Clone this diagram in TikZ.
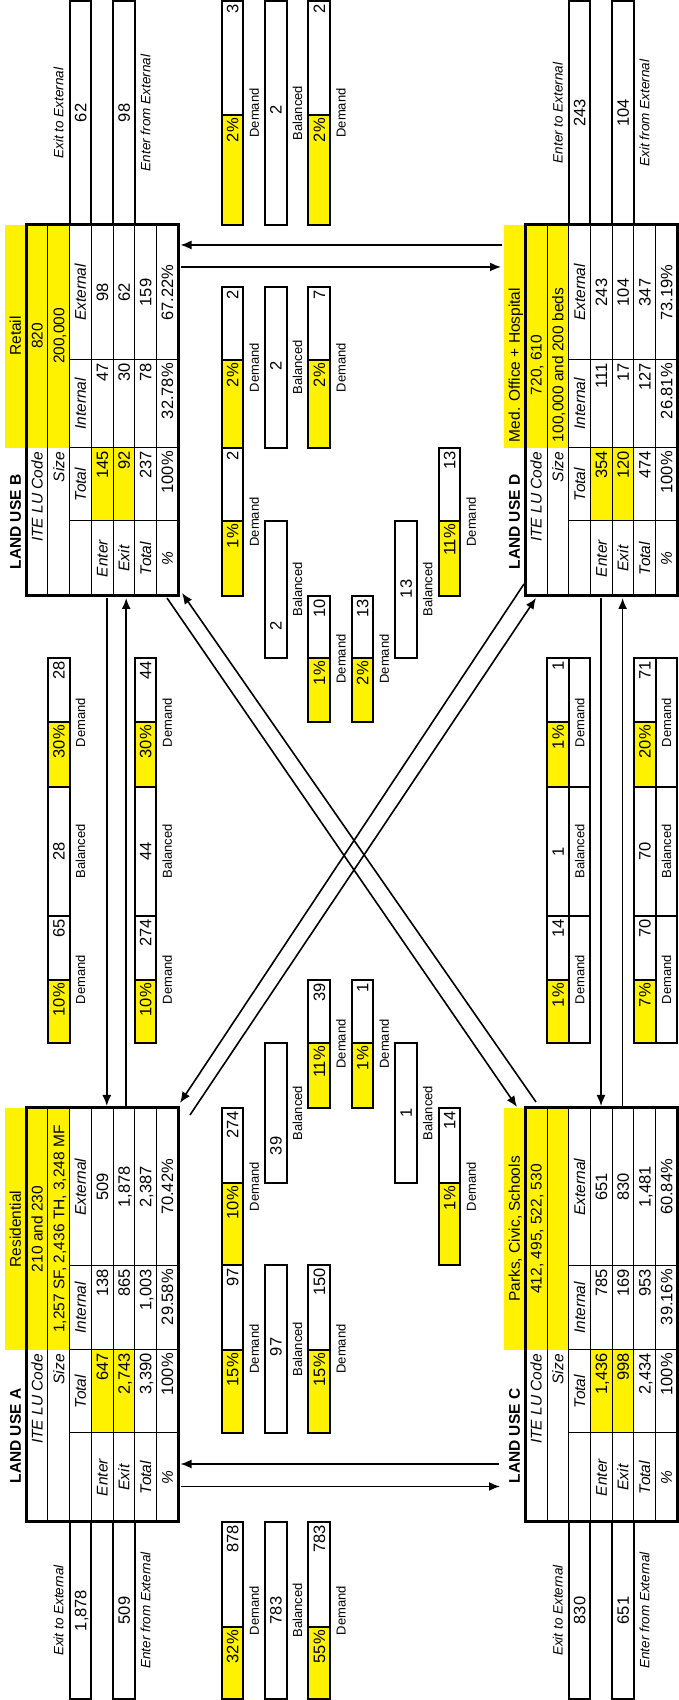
\documentclass[tikz,border=0pt]{standalone}
\usepackage{fontspec}
\setmainfont{Liberation Sans}
\usetikzlibrary{arrows.meta}

\begin{document}
\begin{tikzpicture}[x=1pt, y=-1pt, rotate=90, transform shape,
    frame/.style={line width=3pt},
    grid/.style={line width=1pt},
    cellbox/.style={line width=2pt},
    flow/.style={line width=1.6pt, -{Latex[length=11pt,width=9pt]}},
    num/.style={inner sep=0pt, text height=11.8pt, text depth=0pt,
        font=\fontsize{16.5}{16.5}\selectfont},
    word/.style={inner sep=0pt, text height=11pt, text depth=0pt,
        font=\fontsize{15.5}{15.5}\selectfont},
    head/.style={word, font=\fontsize{15.5}{15.5}\selectfont\itshape},
    lu/.style={word, font=\fontsize{15.5}{15.5}\selectfont\bfseries},
    tag/.style={inner sep=0pt, text height=9.4pt, text depth=0pt,
        font=\fontsize{13}{13}\selectfont},
    ext/.style={tag, font=\fontsize{13.5}{13.5}\selectfont\itshape}]

    \useasboundingbox (0,0) rectangle (1700,678);

    % --------------------------
    % land use A
    % --------------------------
    \fill[yellow] (350,4.5) rectangle (592,69.6);
    \fill[yellow] (267,91.3) rectangle (350,134.7);
    \foreach \r in {47.9,69.6,91.3,113,134.7,156.4}
        \draw[grid] (178,\r) -- (592,\r);
    \foreach \c in {267,350,434}
        \draw[grid] (\c,69.6) -- (\c,178.1);
    \draw[frame] (178,26.2) rectangle (592,178.1);

    \node[lu] (A-lu) at (264,15.35) {LAND USE A};
    \node[word] (A-name) at (471,15.35) {Residential};
    \node[head, anchor=east] (A-code) at (346,37.05) {ITE LU Code};
    \node[head, anchor=east] (A-size) at (346,58.75) {Size};
    \node[word] (A-codev) at (471,37.05) {210 and 230};
    \node[word] (A-sizev) at (471,58.75) {1,257 SF, 2,436 TH, 3,248 MF};
    \node[head] (A-tot) at (308.5,80.45) {Total};
    \node[head] (A-int) at (392,80.45) {Internal};
    \node[head] (A-ext) at (513,80.45) {External};
    \foreach \r/\a/\b/\c/\d [count=\i] in {102.15/Enter/647/138/509,
        123.85/Exit/{2,743}/865/{1,878}, 145.55/Total/{3,390}/{1,003}/{2,387},
        167.25/\%/100\%/29.58\%/70.42\%} {
        \node[head] (A-l\i) at (222.5,\r) {\a};
        \node[num, anchor=east] (A-t\i) at (347,\r) {\b};
        \node[num, anchor=east] (A-i\i) at (431,\r) {\c};
        \node[num] (A-e\i) at (513,\r) {\d};
    }

    % --------------------------
    % land use C
    % --------------------------
    \begin{scope}[shift={(0,499.1)}]
        \fill[yellow] (350,4.5) rectangle (592,69.6);
        \fill[yellow] (267,91.3) rectangle (350,134.7);
        \foreach \r in {47.9,69.6,91.3,113,134.7,156.4}
            \draw[grid] (178,\r) -- (592,\r);
        \foreach \c in {267,350,434}
            \draw[grid] (\c,69.6) -- (\c,178.1);
        \draw[frame] (178,26.2) rectangle (592,178.1);

        \node[lu] (C-lu) at (264,15.35) {LAND USE C};
        \node[word] (C-name) at (471,15.35) {Parks, Civic, Schools};
        \node[head, anchor=east] (C-code) at (346,37.05) {ITE LU Code};
        \node[head, anchor=east] (C-size) at (346,58.75) {Size};
        \node[word] (C-codev) at (471,37.05) {412, 495, 522, 530};
        \node[head] (C-tot) at (308.5,80.45) {Total};
        \node[head] (C-int) at (392,80.45) {Internal};
        \node[head] (C-ext) at (513,80.45) {External};
        \foreach \r/\a/\b/\c/\d [count=\i] in {102.15/Enter/{1,436}/785/651,
            123.85/Exit/998/169/830, 145.55/Total/{2,434}/953/{1,481},
            167.25/\%/100\%/39.16\%/60.84\%} {
            \node[head] (C-l\i) at (222.5,\r) {\a};
            \node[num, anchor=east] (C-t\i) at (347,\r) {\b};
            \node[num, anchor=east] (C-i\i) at (431,\r) {\c};
            \node[num] (C-e\i) at (513,\r) {\d};
        }
    \end{scope}

    % --------------------------
    % land use B
    % --------------------------
    \fill[yellow] (1252,4.5) rectangle (1475,69.6);
    \fill[yellow] (1179,91.3) rectangle (1252,134.7);
    \foreach \r in {47.9,69.6,91.3,113,134.7,156.4}
        \draw[grid] (1104,\r) -- (1475,\r);
    \foreach \c in {1179,1252,1340}
        \draw[grid] (\c,69.6) -- (\c,178.1);
    \draw[frame] (1104,26.2) rectangle (1475,178.1);

    \node[lu] (B-lu) at (1178,15.35) {LAND USE B};
    \node[word] (B-name) at (1364,15.35) {Retail};
    \node[head, anchor=east] (B-code) at (1248,37.05) {ITE LU Code};
    \node[head, anchor=east] (B-size) at (1248,58.75) {Size};
    \node[word] (B-codev) at (1364,37.05) {820};
    \node[word] (B-sizev) at (1364,58.75) {200,000};
    \node[head] (B-tot) at (1215.5,80.45) {Total};
    \node[head] (B-int) at (1296,80.45) {Internal};
    \node[head] (B-ext) at (1407.5,80.45) {External};
    \foreach \r/\a/\b/\c/\d [count=\i] in {102.15/Enter/145/47/98,
        123.85/Exit/92/30/62, 145.55/Total/237/78/159,
        167.25/\%/100\%/32.78\%/67.22\%} {
        \node[head] (B-l\i) at (1141.5,\r) {\a};
        \node[num, anchor=east] (B-t\i) at (1249,\r) {\b};
        \node[num, anchor=east] (B-i\i) at (1337,\r) {\c};
        \node[num] (B-e\i) at (1407.5,\r) {\d};
    }

    % --------------------------
    % land use D
    % --------------------------
    \begin{scope}[shift={(0,499.1)}]
        \fill[yellow] (1252,4.5) rectangle (1475,69.6);
        \fill[yellow] (1179,91.3) rectangle (1252,134.7);
        \foreach \r in {47.9,69.6,91.3,113,134.7,156.4}
            \draw[grid] (1104,\r) -- (1475,\r);
        \foreach \c in {1179,1252,1340}
            \draw[grid] (\c,69.6) -- (\c,178.1);
        \draw[frame] (1104,26.2) rectangle (1475,178.1);

        \node[lu] (D-lu) at (1178,15.35) {LAND USE D};
        \node[word] (D-name) at (1335,15.35) {Med. Office + Hospital};
        \node[head, anchor=east] (D-code) at (1248,37.05) {ITE LU Code};
        \node[head, anchor=east] (D-size) at (1248,58.75) {Size};
        \node[word] (D-codev) at (1335,37.05) {720, 610};
        \node[word] (D-sizev) at (1335,58.75) {100,000 and 200 beds};
        \node[head] (D-tot) at (1215.5,80.45) {Total};
        \node[head] (D-int) at (1296,80.45) {Internal};
        \node[head] (D-ext) at (1407.5,80.45) {External};
        \foreach \r/\a/\b/\c/\d [count=\i] in {102.15/Enter/354/111/243,
            123.85/Exit/120/17/104, 145.55/Total/474/127/347,
            167.25/\%/100\%/26.81\%/73.19\%} {
            \node[head] (D-l\i) at (1141.5,\r) {\a};
            \node[num, anchor=east] (D-t\i) at (1249,\r) {\b};
            \node[num, anchor=east] (D-i\i) at (1337,\r) {\c};
            \node[num] (D-e\i) at (1407.5,\r) {\d};
        }
    \end{scope}

    % --------------------------
    % external trips
    % --------------------------
    \foreach \a/\c/\r in {1/178/69.6, 1/178/113, 1475/1699/69.6, 1475/1699/113,
        1/178/568.7, 1/178/612.1, 1475/1699/568.7, 1475/1699/612.1}
        \draw[cellbox] (\a,\r) rectangle (\c,\r+21.7);

    \node[ext] (xA1) at (89.5,58.75) {Exit to External};
    \node[num] (xA2) at (89.5,80.45) {1,878};
    \node[num] (xA3) at (89.5,123.85) {509};
    \node[ext] (xA4) at (89.5,145.55) {Enter from External};
    \node[ext] (xB1) at (1587,58.75) {Exit to External};
    \node[num] (xB2) at (1587,80.45) {62};
    \node[num] (xB3) at (1587,123.85) {98};
    \node[ext] (xB4) at (1587,145.55) {Enter from External};
    \node[ext] (xC1) at (89.5,557.85) {Exit to External};
    \node[num] (xC2) at (89.5,579.55) {830};
    \node[num] (xC3) at (89.5,622.95) {651};
    \node[ext] (xC4) at (89.5,644.65) {Enter from External};
    \node[ext] (xD1) at (1587,557.85) {Enter to External};
    \node[num] (xD2) at (1587,579.55) {243};
    \node[num] (xD3) at (1587,622.95) {104};
    \node[ext] (xD4) at (1587,644.65) {Exit from External};

    % --------------------------
    % demand / balanced strips (A-B, C-D)
    % --------------------------
    \foreach \r in {47.9,134.7,547,633.8} {
        \fill[yellow] (657,\r) rectangle (720,\r+21.7);
        \fill[yellow] (913,\r) rectangle (978,\r+21.7);
        \draw[cellbox] (657,\r) rectangle (1042,\r+21.7);
        \foreach \c in {720,784,913,978}
            \draw[cellbox] (\c,\r) -- (\c,\r+21.7);
    }
    \foreach \r in {568.7,655.5} {
        \draw[cellbox] (657,\r) rectangle (1042,\r+21.7);
        \foreach \c in {784,913}
            \draw[cellbox] (\c,\r) -- (\c,\r+21.7);
    }
    \foreach \r/\p/\v/\m/\q/\w [count=\i] in {58.75/10\%/65/28/30\%/28,
        145.55/10\%/274/44/30\%/44, 557.85/1\%/14/1/1\%/1, 644.65/7\%/70/70/20\%/71} {
        \node[num, anchor=east] (s\i-p1) at (717,\r) {\p};
        \node[num, anchor=east] (s\i-v1) at (781,\r) {\v};
        \node[num] (s\i-b) at (848.5,\r) {\m};
        \node[num, anchor=east] (s\i-p2) at (975,\r) {\q};
        \node[num, anchor=east] (s\i-v2) at (1039,\r) {\w};
        \node[tag] (s\i-d1) at (720.5,\r+21.7) {Demand};
        \node[tag] (s\i-bl) at (848.5,\r+21.7) {Balanced};
        \node[tag] (s\i-d2) at (977.5,\r+21.7) {Demand};
    }

    % --------------------------
    % demand / balanced boxes (A-C, B-D, A-D, B-C)
    % --------------------------
    \foreach \a/\b/\c/\r in {1/73/178/221.5, 267/350/435/221.5, 435/517/592/221.5,
        1104/1179/1252/221.5, 1252/1340/1413/221.5, 1475/1585/1699/221.5,
        1/73/178/308.3, 267/350/435/308.3, 592/657/720/308.3,
        978/1042/1104/308.3, 1252/1340/1413/308.3, 1475/1585/1699/308.3,
        592/657/720/351.7, 978/1042/1104/351.7,
        435/517/592/438.5, 1104/1179/1252/438.5} {
        \fill[yellow] (\a,\r) rectangle (\b,\r+21.7);
        \draw[cellbox] (\a,\r) rectangle (\c,\r+21.7);
        \draw[cellbox] (\b,\r) -- (\b,\r+21.7);
    }
    \foreach \a/\c/\r in {1/178/264.9, 267/435/264.9, 517/657/264.9,
        1042/1179/264.9, 1252/1413/264.9, 1475/1699/264.9,
        517/657/395.1, 1042/1179/395.1}
        \draw[cellbox] (\a,\r) rectangle (\c,\r+21.7);

    \foreach \b/\c/\p/\v [count=\i] in {73/178/32\%/878, 350/435/15\%/97,
        517/592/10\%/274, 1179/1252/1\%/2, 1340/1413/2\%/2, 1585/1699/2\%/3} {
        \node[num, anchor=east] (r1-p\i) at (\b-3,232.35) {\p};
        \node[num, anchor=east] (r1-v\i) at (\c-3,232.35) {\v};
    }
    \foreach \x/\v [count=\i] in {89.5/783, 353/97, 554/39, 1074/2, 1334/2, 1590/2}
        \node[num] (r2-b\i) at (\x,275.75) {\v};
    \foreach \b/\c/\p/\v [count=\i] in {73/178/55\%/783, 350/435/15\%/150,
        657/720/11\%/39, 1042/1104/1\%/10, 1340/1413/2\%/7, 1585/1699/2\%/2} {
        \node[num, anchor=east] (r3-p\i) at (\b-3,319.15) {\p};
        \node[num, anchor=east] (r3-v\i) at (\c-3,319.15) {\v};
    }
    \foreach \b/\c/\p/\v [count=\i] in {657/720/1\%/1, 1042/1104/2\%/13} {
        \node[num, anchor=east] (r4-p\i) at (\b-3,362.55) {\p};
        \node[num, anchor=east] (r4-v\i) at (\c-3,362.55) {\v};
    }
    \node[num] (r5-b1) at (587,405.95) {1};
    \node[num] (r5-b2) at (1111,405.95) {13};
    \foreach \b/\c/\p/\v [count=\i] in {517/592/1\%/14, 1179/1252/11\%/13} {
        \node[num, anchor=east] (r6-p\i) at (\b-3,449.35) {\p};
        \node[num, anchor=east] (r6-v\i) at (\c-3,449.35) {\v};
    }

    \foreach \x [count=\i] in {89.5,351,513.5,1178,1332.5,1587}
        \node[tag] (k1-\i) at (\x,254.05) {Demand};
    \foreach \x [count=\i] in {89.5,351,587,1110.5,1332.5,1587}
        \node[tag] (k2-\i) at (\x,297.45) {Balanced};
    \foreach \x [count=\i] in {89.5,351,656,1041,1332.5,1587}
        \node[tag] (k3-\i) at (\x,340.85) {Demand};
    \foreach \x [count=\i] in {656,1041}
        \node[tag] (k4-\i) at (\x,384.25) {Demand};
    \foreach \x [count=\i] in {587,1110.5}
        \node[tag] (k5-\i) at (\x,427.65) {Balanced};
    \foreach \x [count=\i] in {513.5,1178}
        \node[tag] (k6-\i) at (\x,471.05) {Demand};

    % --------------------------
    % trip arrows
    % --------------------------
    \coordinate (A-b1) at (594,106.8);
    \coordinate (A-b2) at (594,126.2);
    \coordinate (B-a1) at (1102,106.8);
    \coordinate (B-a2) at (1102,126.2);
    \coordinate (C-d1) at (594,601);
    \coordinate (C-d2) at (594,622.6);
    \coordinate (D-c1) at (1102,601);
    \coordinate (D-c2) at (1102,622.6);
    \coordinate (A-c1) at (236,180.5);
    \coordinate (A-c2) at (213.5,180.5);
    \coordinate (C-a1) at (236,499);
    \coordinate (C-a2) at (213.5,500);
    \coordinate (B-d1) at (1455,180.5);
    \coordinate (B-d2) at (1433,180.5);
    \coordinate (D-b1) at (1455,502);
    \coordinate (D-b2) at (1433,501);
    \coordinate (A-d1) at (597,180);
    \coordinate (A-d2) at (585,190);
    \coordinate (D-a1) at (1116,524);
    \coordinate (D-a2) at (1102,536);
    \coordinate (B-c1) at (1107,182);
    \coordinate (B-c2) at (1102,167);
    \coordinate (C-b1) at (598,536);
    \coordinate (C-b2) at (593,517);

    \draw[flow] (B-a1) -- (A-b1);
    \draw[flow] (A-b2) -- (B-a2);
    \draw[flow] (D-c1) -- (C-d1);
    \draw[flow] (C-d2) -- (D-c2);
    \draw[flow] (C-a1) -- (A-c1);
    \draw[flow] (A-c2) -- (C-a2);
    \draw[flow] (D-b1) -- (B-d1);
    \draw[flow] (B-d2) -- (D-b2);
    \draw[flow] (D-a1) -- (A-d1);
    \draw[flow] (A-d2) -- (D-a2);
    \draw[flow] (C-b1) -- (B-c1);
    \draw[flow] (B-c2) -- (C-b2);

\end{tikzpicture}
\end{document}
